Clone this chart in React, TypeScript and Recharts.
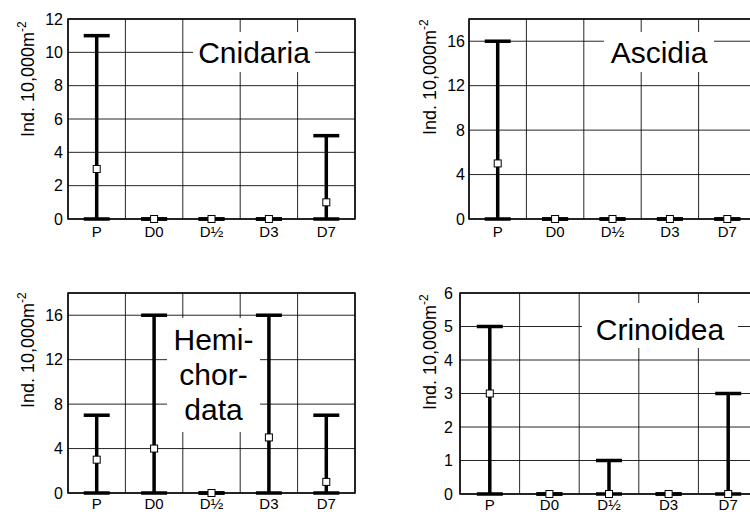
import { ComposedChart, Scatter, ErrorBar, XAxis, YAxis, CartesianGrid, ReferenceArea } from 'recharts';

// sampling stations along the x axis
const stations = ['P', 'D0', 'D½', 'D3', 'D7'];

// mean (square) and max (upper cap) per station, every range starts at 0
const cnidariaMean = [3, 0, 0, 0, 1];
const cnidariaMax = [11, 0, 0, 0, 5];
const ascidiaMean = [5, 0, 0, 0, 0];
const ascidiaMax = [16, 0, 0, 0, 0];
const hemichordataMean = [3, 4, 0, 5, 1];
const hemichordataMax = [7, 16, 0, 16, 7];
const crinoideaMean = [3, 0, 0, 0, 0];
const crinoideaMax = [5, 0, 1, 0, 3];
const rangeMin = [0, 0, 0, 0, 0];

const ticksTo12 = [0, 2, 4, 6, 8, 10, 12];
const ticksTo16 = [0, 4, 8, 12, 16];
const ticksTo6 = [0, 1, 2, 3, 4, 5, 6];

const FONT = '"Liberation Sans", Arial, Helvetica, sans-serif';

function buildRows(mean: number[], max: number[]) {
  return stations.map((name, i) => ({
    name,
    mean: mean[i],
    err: [mean[i] - rangeMin[i], max[i] - mean[i]],
  }));
}

function MeanSquare(props: any) {
  const { cx, cy } = props;
  if (cx == null || cy == null) return null;
  return <rect x={cx - 3.5} y={cy - 3.5} width={7} height={7} fill="#fff" stroke="#000" strokeWidth={1} />;
}

interface PanelProps {
  left: number;
  top: number;
  height: number;
  margin: { top: number; right: number; bottom: number; left: number };
  yWidth: number;
  xHeight: number;
  xGap: number;
  domain: [number, number];
  ticks: number[];
  rows: ReturnType<typeof buildRows>;
  labelX: number;
  labelY: number;
  tickGap: number;
}

function Panel(p: PanelProps) {
  return (
    <div style={{ position: 'absolute', left: p.left, top: p.top }}>
      <ComposedChart width={380} height={p.height} data={p.rows} margin={p.margin}>
        <CartesianGrid
          stroke="#000"
          strokeWidth={1}
          strokeOpacity={0.85}
          verticalCoordinatesGenerator={({ offset }: any) =>
            [0, 1, 2, 3, 4, 5].map((i) => offset.left + (i * offset.width) / 5)
          }
        />
        <ReferenceArea y1={p.domain[0]} y2={p.domain[1]} fill="none" fillOpacity={0} stroke="#000" strokeWidth={1.5} />
        <XAxis
          dataKey="name"
          scale="band"
          height={p.xHeight}
          axisLine={false}
          tickLine={false}
          tickSize={0}
          tickMargin={p.xGap}
          interval={0}
          tick={{ fontSize: 15, fill: '#000', fontFamily: FONT }}
        />
        <YAxis
          type="number"
          domain={p.domain}
          ticks={p.ticks}
          width={p.yWidth}
          axisLine={false}
          tickLine={false}
          tickSize={0}
          tickMargin={p.tickGap}
          interval={0}
          tick={{ fontSize: 16, fill: '#000', fontFamily: FONT }}
          label={() => (
            <text
              transform={`translate(${p.labelX},${p.labelY}) rotate(-90)`}
              style={{ fontSize: 18, fontFamily: FONT }}
              fill="#000"
              textAnchor="start"
            >
              Ind. 10,000m
              <tspan style={{ fontSize: 12 }} dy={-8}>
                -2
              </tspan>
            </text>
          )}
        />
        <Scatter dataKey="mean" isAnimationActive={false} shape={MeanSquare}>
          <ErrorBar dataKey="err" direction="y" width={13} stroke="#000" strokeWidth={3.5} isAnimationActive={false} />
        </Scatter>
      </ComposedChart>
    </div>
  );
}

function Title({ x, y, w, h, lines, baseline }: { x: number; y: number; w: number; h: number; lines: string[]; baseline: number }) {
  return (
    <div style={{ position: 'absolute', left: x, top: y, width: w, height: h, background: '#fff' }}>
      <div
        style={{
          position: 'absolute',
          left: 0,
          width: w,
          top: baseline - y - 28,
          fontFamily: FONT,
          fontSize: 30,
          lineHeight: '35px',
          textAlign: 'center',
          color: '#000',
        }}
      >
        {lines.map((l) => (
          <div key={l}>{l}</div>
        ))}
      </div>
    </div>
  );
}

export default function App() {
  return (
    <div style={{ position: 'absolute', left: 0, top: 0, width: 750, height: 514, overflow: 'hidden', background: '#fff' }}>
      <Panel
        left={0}
        top={0}
        height={250}
        margin={{ top: 19, right: 25, bottom: 7, left: 0 }}
        yWidth={68}
        xHeight={24}
        xGap={7}
        domain={[0, 12]}
        ticks={ticksTo12}
        rows={buildRows(cnidariaMean, cnidariaMax)}
        labelX={34}
        labelY={137}
        tickGap={5}
      />
      <Panel
        left={380}
        top={0}
        height={250}
        margin={{ top: 19, right: 4, bottom: 7, left: 0 }}
        yWidth={89}
        xHeight={24}
        xGap={7}
        domain={[0, 18]}
        ticks={ticksTo16}
        rows={buildRows(ascidiaMean, ascidiaMax)}
        labelX={56}
        labelY={135}
        tickGap={4}
      />
      <Panel
        left={0}
        top={260}
        height={254}
        margin={{ top: 33, right: 25, bottom: 0, left: 0 }}
        yWidth={68}
        xHeight={21}
        xGap={5}
        domain={[0, 18]}
        ticks={ticksTo16}
        rows={buildRows(hemichordataMean, hemichordataMax)}
        labelX={34}
        labelY={148}
        tickGap={5}
      />
      <Panel
        left={380}
        top={260}
        height={254}
        margin={{ top: 33, right: 2, bottom: 0, left: 0 }}
        yWidth={80}
        xHeight={20}
        xGap={5}
        domain={[0, 6]}
        ticks={ticksTo6}
        rows={buildRows(crinoideaMean, crinoideaMax)}
        labelX={56}
        labelY={150}
        tickGap={7}
      />
      <Title x={193} y={32} w={122} h={40} lines={['Cnidaria']} baseline={63} />
      <Title x={604} y={32} w={110} h={40} lines={['Ascidia']} baseline={63} />
      <Title x={167} y={318} w={93} h={114} lines={['Hemi-', 'chor-', 'data']} baseline={350} />
      <Title x={582} y={303} w={156} h={45} lines={['Crinoidea']} baseline={340} />
    </div>
  );
}
